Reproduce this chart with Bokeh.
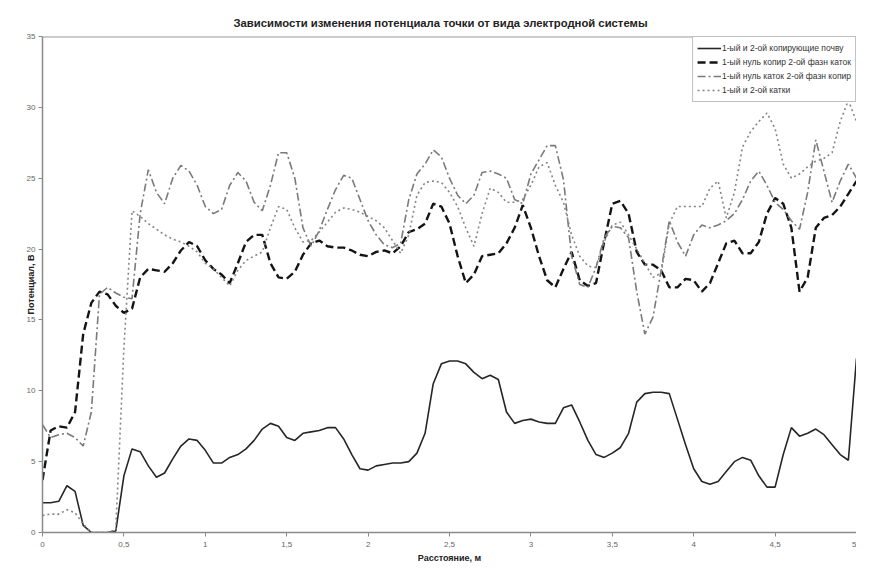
from bokeh.plotting import figure
from bokeh.models import FixedTicker, Legend, LegendItem, Span
from bokeh.embed import file_html
from bokeh.resources import INLINE

title_text = "Зависимости изменения потенциала точки от вида электродной системы"
x_label = "Расстояние, м"
y_label = "Потенциал, В"
series_names = [
    "1-ый и 2-ой копирующие почву",
    "1-ый нуль копир 2-ой фазн каток",
    "1-ый нуль каток 2-ой фазн копир",
    "1-ый и 2-ой катки",
]

x_vals = [0.0, 0.05, 0.1, 0.15, 0.2, 0.25, 0.3, 0.35, 0.4, 0.45,
          0.5, 0.55, 0.6, 0.65, 0.7, 0.75, 0.8, 0.85, 0.9, 0.95,
          1.0, 1.05, 1.1, 1.15, 1.2, 1.25, 1.3, 1.35, 1.4, 1.45,
          1.5, 1.55, 1.6, 1.65, 1.7, 1.75, 1.8, 1.85, 1.9, 1.95,
          2.0, 2.05, 2.1, 2.15, 2.2, 2.25, 2.3, 2.35, 2.4, 2.45,
          2.5, 2.55, 2.6, 2.65, 2.7, 2.75, 2.8, 2.85, 2.9, 2.95,
          3.0, 3.05, 3.1, 3.15, 3.2, 3.25, 3.3, 3.35, 3.4, 3.45,
          3.5, 3.55, 3.6, 3.65, 3.7, 3.75, 3.8, 3.85, 3.9, 3.95,
          4.0, 4.05, 4.1, 4.15, 4.2, 4.25, 4.3, 4.35, 4.4, 4.45,
          4.5, 4.55, 4.6, 4.65, 4.7, 4.75, 4.8, 4.85, 4.9, 4.95,
          5.0]

s1 = [2.1, 2.1, 2.2, 3.3, 2.9, 0.5, 0.0, 0.0, 0.0, 0.1,
      4.0, 5.9, 5.7, 4.7, 3.9, 4.2, 5.2, 6.1, 6.6, 6.5,
      5.8, 4.9, 4.9, 5.3, 5.5, 5.9, 6.5, 7.3, 7.7, 7.5,
      6.7, 6.5, 7.0, 7.1, 7.2, 7.4, 7.4, 6.6, 5.5, 4.5,
      4.4, 4.7, 4.8, 4.9, 4.9, 5.0, 5.6, 7.0, 10.5, 11.9,
      12.1, 12.1, 11.9, 11.3, 10.85, 11.1, 10.8, 8.5, 7.7, 7.9,
      8.0, 7.8, 7.7, 7.7, 8.8, 9.0, 7.8, 6.5, 5.5, 5.3,
      5.6, 6.0, 7.0, 9.2, 9.8, 9.9, 9.9, 9.8, 8.0, 6.2,
      4.5, 3.6, 3.4, 3.6, 4.3, 5.0, 5.3, 5.1, 4.0, 3.2,
      3.2, 5.5, 7.4, 6.8, 7.0, 7.3, 6.9, 6.2, 5.5, 5.1,
      12.3]

s2 = [3.7, 7.2, 7.5, 7.4, 8.5, 14.0, 16.2, 17.0, 16.8, 16.0,
      15.5, 15.8, 18.0, 18.6, 18.5, 18.4, 19.0, 19.9, 20.5, 20.2,
      19.2, 18.6, 18.2, 17.6, 19.0, 20.5, 21.0, 21.0, 19.0, 18.0,
      17.9, 18.4, 19.6, 20.4, 20.6, 20.2, 20.1, 20.1, 19.9, 19.6,
      19.5, 19.8, 19.9, 19.7, 20.2, 21.2, 21.4, 21.8, 23.2, 23.0,
      21.8, 19.5, 17.6, 18.2, 19.5, 19.6, 19.7, 20.4, 21.5, 23.1,
      21.5, 19.5, 17.8, 17.3, 18.6, 19.8, 17.8, 17.4, 17.6, 20.5,
      23.2, 23.4, 22.5, 19.8, 18.9, 18.9, 18.5, 17.3, 17.3, 17.9,
      17.8, 17.0, 17.6, 19.0, 20.4, 20.6, 19.7, 19.7, 20.5, 22.5,
      23.6, 23.2, 21.5, 17.0, 18.0, 21.5, 22.2, 22.4, 23.0, 23.9,
      24.8]

s3 = [7.6, 6.7, 6.9, 7.0, 6.7, 6.1, 8.5, 16.8, 17.3, 16.9,
      16.6, 16.5, 22.5, 25.6, 24.0, 23.2, 25.0, 25.9, 25.5, 24.5,
      23.0, 22.5, 22.8, 24.5, 25.4, 24.8, 23.3, 22.7, 24.5, 26.8,
      26.8, 25.0, 21.5, 20.2, 21.3, 22.8, 24.2, 25.2, 25.0, 23.5,
      22.0, 21.0, 20.3, 20.1, 20.4, 23.5, 25.3, 26.0, 27.0, 26.5,
      25.0, 23.8, 23.2, 23.8, 25.4, 25.5, 25.3, 25.0, 23.5, 23.2,
      25.3, 26.3, 27.3, 27.3, 24.9, 19.5, 17.5, 17.3, 18.7, 20.8,
      21.6, 21.5, 20.8, 17.0, 14.0, 15.2, 18.5, 22.0, 20.5, 19.5,
      21.0, 21.7, 21.5, 21.7, 22.0, 22.5, 23.5, 24.8, 25.5, 24.5,
      23.3, 22.8, 22.0, 21.4, 24.0, 27.7, 25.5, 23.3, 24.8, 26.0,
      25.0]

s4 = [1.2, 1.3, 1.3, 1.6, 1.4, 0.6, 0.0, 0.0, 0.0, 0.2,
      13.0, 22.7, 22.3, 21.8, 21.4, 21.0, 20.7, 20.5, 20.2, 19.8,
      19.0, 18.6, 18.0, 17.4, 18.5, 19.2, 19.5, 19.8, 21.5, 23.0,
      22.8, 21.5, 20.5, 20.6, 21.2, 21.9, 22.6, 22.9, 22.8, 22.6,
      22.3, 22.0, 21.5, 20.6, 19.7, 21.0, 23.8, 24.7, 24.8, 24.7,
      24.0, 23.0, 21.5, 20.2, 22.5, 24.3, 24.0, 23.3, 23.3, 23.5,
      24.5, 25.8, 26.1, 24.5, 23.3, 21.0, 19.5, 18.8, 18.7, 20.5,
      21.7, 21.9, 21.0, 20.0, 19.0, 18.0, 18.3, 21.8, 23.0, 23.0,
      23.0, 23.0, 24.3, 24.8, 22.2, 24.0, 27.2, 28.3, 29.0, 29.6,
      28.5, 26.0, 25.0, 25.3, 25.8, 26.2, 26.4, 26.8, 29.0, 30.5,
      29.0]

x_ticks = [0, 0.5, 1, 1.5, 2, 2.5, 3, 3.5, 4, 4.5, 5]
x_tick_labels = ["0", "0,5", "1", "1,5", "2", "2,5", "3", "3,5", "4", "4,5", "5"]
y_ticks = [0, 5, 10, 15, 20, 25, 30, 35]

FONT = "Liberation Sans"

p = figure(width=856, height=565, output_backend="svg", toolbar_location=None,
           x_range=(0, 5), y_range=(0, 35),
           min_border_left=42, min_border_right=0, min_border_top=36, min_border_bottom=31)

p.title.text = title_text
p.title.align = "left"
p.title.offset = 191
p.title.text_font = FONT
p.title.text_font_size = "11.3px"
p.title.text_font_style = "bold"
p.title.text_color = "#222222"
p.title.vertical_align = "top"
p.title.standoff = 12

p.xgrid.visible = False
p.ygrid.visible = False
p.outline_line_color = None
p.background_fill_color = "white"
p.border_fill_color = "white"

for ax in (p.xaxis[0], p.yaxis[0]):
    ax.axis_line_color = "#8a8a8a"
    ax.axis_line_width = 1.5
    ax.major_tick_line_color = "#8a8a8a"
    ax.major_tick_out = 4
    ax.major_tick_in = 0
    ax.minor_tick_line_color = None
    ax.major_label_text_font = FONT
    ax.major_label_text_font_size = "8px"
    ax.major_label_text_color = "#666666"
    ax.major_label_standoff = 3
    ax.axis_label_text_font = FONT
    ax.axis_label_text_font_size = "9px"
    ax.axis_label_text_font_style = "bold"
    ax.axis_label_text_color = "#222222"

p.xaxis[0].ticker = FixedTicker(ticks=x_ticks)
p.xaxis[0].major_label_overrides = {t: l for t, l in zip(x_ticks, x_tick_labels)}
p.xaxis[0].major_label_standoff = 5
p.xaxis[0].axis_label = x_label
p.xaxis[0].axis_label_standoff = 3

p.yaxis[0].ticker = FixedTicker(ticks=y_ticks)
p.yaxis[0].axis_label = y_label
p.yaxis[0].axis_label_standoff = -12

top_line = Span(location=35, dimension="width", line_color="#9a9a9a", line_width=2)
p.add_layout(top_line)

r1 = p.line(x_vals, s1, line_color="#262626", line_width=1.6)
r2 = p.line(x_vals, s2, line_color="#141414", line_width=2.4, line_dash="8 4")
r3 = p.line(x_vals, s3, line_color="#7a7a7a", line_width=1.6, line_dash="8 3 2 3")
r4 = p.line(x_vals, s4, line_color="#858585", line_width=1.6, line_dash="2 3")

legend = Legend(items=[LegendItem(label=n, renderers=[r]) for n, r in
                       zip(series_names, [r1, r2, r3, r4])],
                location="top_right")
legend.margin = 0
legend.padding = 4
legend.spacing = 0
legend.glyph_width = 24
legend.glyph_height = 14
legend.label_height = 14
legend.label_standoff = 1
legend.label_text_font = FONT
legend.label_text_font_size = "8.5px"
legend.label_text_color = "#333333"
legend.border_line_color = "#808080"
legend.border_line_width = 1
legend.background_fill_alpha = 1
p.add_layout(legend)

open("out.html", "w").write(file_html(p, INLINE))
